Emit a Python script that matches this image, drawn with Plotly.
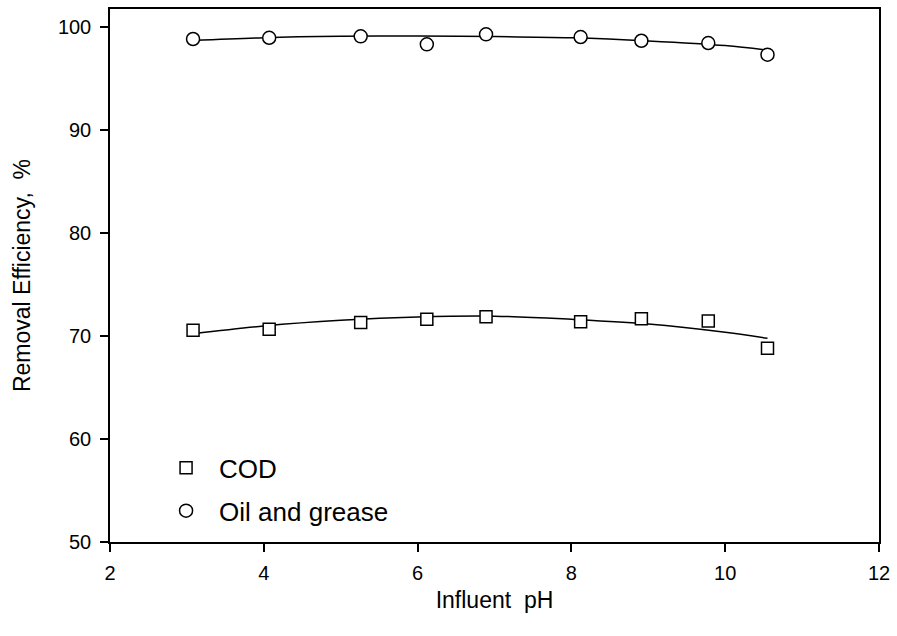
import plotly.graph_objects as go

# Measured data points
ph_points = [3.08, 4.07, 5.26, 6.12, 6.89, 8.12, 8.91, 9.78, 10.55]
cod_values = [70.53, 70.63, 71.30, 71.60, 71.85, 71.36, 71.65, 71.43, 68.79]
oil_values = [98.79, 98.91, 99.05, 98.27, 99.24, 98.98, 98.62, 98.40, 97.27]

# Fitted curves
fit_ph = [3.08, 4.0, 5.0, 6.0, 7.0, 8.0, 9.0, 10.0, 10.55]
cod_fit = [70.2, 70.95, 71.5, 71.82, 71.9, 71.6, 71.15, 70.35, 69.76]
oil_fit = [98.65, 98.92, 99.05, 99.07, 99.03, 98.9, 98.6, 98.15, 97.7]

x_ticks = [2, 4, 6, 8, 10, 12]
y_ticks = [50, 60, 70, 80, 90, 100]

FONT = "Liberation Sans, Arial, Helvetica, sans-serif"

fig = go.Figure()
fig.add_trace(go.Scatter(x=fit_ph, y=cod_fit, mode="lines", showlegend=False,
                         line=dict(color="black", width=1.5, shape="spline"), hoverinfo="skip"))
fig.add_trace(go.Scatter(x=fit_ph, y=oil_fit, mode="lines", showlegend=False,
                         line=dict(color="black", width=1.5, shape="spline"), hoverinfo="skip"))
fig.add_trace(go.Scatter(x=ph_points, y=cod_values, mode="markers", name="COD",
                         legendgroup="a",
                         marker=dict(symbol="square", size=12, color="white",
                                     line=dict(color="black", width=1.5))))
fig.add_trace(go.Scatter(x=ph_points, y=oil_values, mode="markers", name="Oil and grease",
                         legendgroup="b",
                         marker=dict(symbol="circle", size=13, color="white",
                                     line=dict(color="black", width=1.5))))

axis_common = dict(showgrid=False, zeroline=False, showline=True, linecolor="black",
                   linewidth=1.5, mirror=True, ticks="outside", ticklen=8, tickwidth=1.5,
                   tickcolor="black", tickfont=dict(family=FONT, size=20, color="black"))

fig.update_xaxes(range=[2, 12], tickvals=x_ticks, ticktext=[str(v) for v in x_ticks],
                 ticklabelstandoff=4,
                 title=dict(text="Influent  pH", font=dict(family=FONT, size=23, color="black"),
                            standoff=9),
                 **axis_common)
fig.update_yaxes(range=[50, 101.7], tickvals=y_ticks, ticktext=[str(v) for v in y_ticks],
                 ticklabelstandoff=5,
                 title=dict(text="Removal Efficiency,  %", font=dict(family=FONT, size=23, color="black"),
                            standoff=21),
                 **axis_common)

fig.update_layout(
    width=897, height=636,
    margin=dict(l=110, r=16, t=7, b=94),
    paper_bgcolor="white", plot_bgcolor="white",
    font=dict(family=FONT, color="black"),
    legend=dict(x=0.056, y=0.183, xanchor="left", yanchor="top",
                font=dict(family=FONT, size=26, color="black"),
                bgcolor="rgba(0,0,0,0)", itemwidth=56, tracegroupgap=6),
)

fig.write_html("out.html")
